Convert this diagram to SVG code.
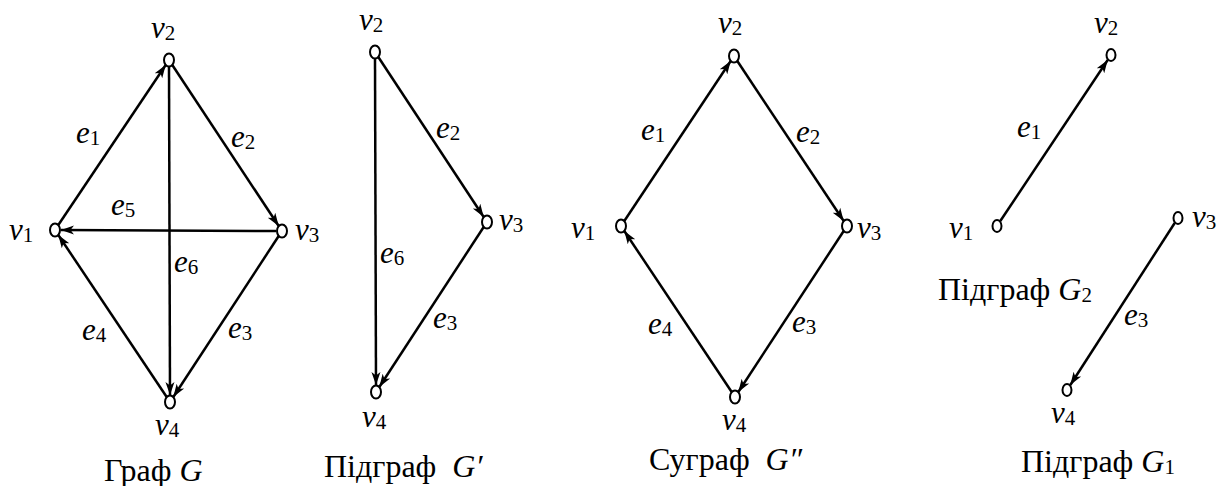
<svg xmlns="http://www.w3.org/2000/svg" width="1224" height="486" viewBox="0 0 1224 486">
<style>
text{font-family:'Liberation Serif',serif;font-size:31px;fill:#000}
.title{font-size:32px}
.it{font-style:italic}
.sub{font-size:21px;font-style:normal}
.node{fill:#fff;stroke:#000;stroke-width:2}
.edge{stroke:#000;stroke-width:2.5;fill:none;marker-end:url(#arr)}
</style>
<defs>
<marker id="arr" markerUnits="userSpaceOnUse" markerWidth="14" markerHeight="12" viewBox="0 0 14 12" refX="13" refY="6" orient="auto">
<path d="M0,1.5 L13,6 L0,10.5 L3.5,6 z" fill="#000"/>
</marker>
</defs>

<g id="connectors">
<line class="edge" x1="58.3" y1="225" x2="165.7" y2="65"/>
<line class="edge" x1="172.3" y1="65" x2="278.7" y2="226"/>
<line class="edge" x1="276" y1="231" x2="61" y2="230"/>
<line class="edge" x1="169" y1="67" x2="170" y2="395"/>
<line class="edge" x1="278.7" y1="236" x2="173.3" y2="397"/>
<line class="edge" x1="166.7" y1="397" x2="58.3" y2="235"/>
<line class="edge" x1="378.3" y1="57" x2="483.7" y2="217"/>
<line class="edge" x1="375" y1="59" x2="376" y2="385"/>
<line class="edge" x1="483.7" y1="227" x2="379.3" y2="387"/>
<line class="edge" x1="624.3" y1="221" x2="730.7" y2="61"/>
<line class="edge" x1="737.3" y1="61" x2="843.7" y2="221"/>
<line class="edge" x1="843.7" y1="231" x2="738.3" y2="392"/>
<line class="edge" x1="731.7" y1="392" x2="624.3" y2="231"/>
<line class="edge" x1="1000.3" y1="221" x2="1107.7" y2="60"/>
<line class="edge" x1="1174.7" y1="223" x2="1070.3" y2="385"/>
</g>

<g id="edge-labels" font-family="Liberation Serif">
<text x="76" y="143"><tspan class="it">e</tspan><tspan class="sub" dy="2">1</tspan></text>
<text x="231" y="147"><tspan class="it">e</tspan><tspan class="sub" dy="2">2</tspan></text>
<text x="111" y="215"><tspan class="it">e</tspan><tspan class="sub" dy="2">5</tspan></text>
<text x="174" y="272"><tspan class="it">e</tspan><tspan class="sub" dy="2">6</tspan></text>
<text x="82" y="340"><tspan class="it">e</tspan><tspan class="sub" dy="2">4</tspan></text>
<text x="228" y="338"><tspan class="it">e</tspan><tspan class="sub" dy="2">3</tspan></text>
<text x="436" y="138"><tspan class="it">e</tspan><tspan class="sub" dy="2">2</tspan></text>
<text x="380" y="263"><tspan class="it">e</tspan><tspan class="sub" dy="2">6</tspan></text>
<text x="433" y="328"><tspan class="it">e</tspan><tspan class="sub" dy="2">3</tspan></text>
<text x="641" y="140"><tspan class="it">e</tspan><tspan class="sub" dy="2">1</tspan></text>
<text x="796" y="142"><tspan class="it">e</tspan><tspan class="sub" dy="2">2</tspan></text>
<text x="648" y="334"><tspan class="it">e</tspan><tspan class="sub" dy="2">4</tspan></text>
<text x="792" y="332"><tspan class="it">e</tspan><tspan class="sub" dy="2">3</tspan></text>
<text x="1017" y="137"><tspan class="it">e</tspan><tspan class="sub" dy="2">1</tspan></text>
<text x="1124" y="325"><tspan class="it">e</tspan><tspan class="sub" dy="2">3</tspan></text>
</g>

<g font-family="Liberation Serif">
<g id="G-v1"><ellipse class="node" cx="55" cy="230" rx="5" ry="6.5"/><text x="9" y="240"><tspan class="it">v</tspan><tspan class="sub" dy="2">1</tspan></text></g>
<g id="G-v2"><ellipse class="node" cx="169" cy="60" rx="5" ry="6.5"/><text x="151" y="38"><tspan class="it">v</tspan><tspan class="sub" dy="2">2</tspan></text></g>
<g id="G-v3"><ellipse class="node" cx="282" cy="231" rx="5" ry="6.5"/><text x="295" y="240"><tspan class="it">v</tspan><tspan class="sub" dy="2">3</tspan></text></g>
<g id="G-v4"><ellipse class="node" cx="170" cy="402" rx="5" ry="6.5"/><text x="155" y="435"><tspan class="it">v</tspan><tspan class="sub" dy="2">4</tspan></text></g>
<g id="G-title"><text class="title" x="104" y="481">Граф <tspan class="it">G</tspan></text></g>

<g id="Gp-v2"><ellipse class="node" cx="375" cy="52" rx="5" ry="6.5"/><text x="359" y="30"><tspan class="it">v</tspan><tspan class="sub" dy="2">2</tspan></text></g>
<g id="Gp-v3"><ellipse class="node" cx="487" cy="222" rx="5" ry="6.5"/><text x="499" y="230"><tspan class="it">v</tspan><tspan class="sub" dy="2">3</tspan></text></g>
<g id="Gp-v4"><ellipse class="node" cx="376" cy="392" rx="5" ry="6.5"/><text x="362" y="427"><tspan class="it">v</tspan><tspan class="sub" dy="2">4</tspan></text></g>
<g id="Gp-title"><text class="title" x="324" y="477" xml:space="preserve">Підграф  <tspan class="it">G′</tspan></text></g>

<g id="Gpp-v1"><ellipse class="node" cx="621" cy="226" rx="5" ry="6.5"/><text x="571" y="238"><tspan class="it">v</tspan><tspan class="sub" dy="2">1</tspan></text></g>
<g id="Gpp-v2"><ellipse class="node" cx="734" cy="56" rx="5" ry="6.5"/><text x="718" y="33"><tspan class="it">v</tspan><tspan class="sub" dy="2">2</tspan></text></g>
<g id="Gpp-v3"><ellipse class="node" cx="847" cy="226" rx="5" ry="6.5"/><text x="857" y="238"><tspan class="it">v</tspan><tspan class="sub" dy="2">3</tspan></text></g>
<g id="Gpp-v4"><ellipse class="node" cx="735" cy="397" rx="5" ry="6.5"/><text x="722" y="430"><tspan class="it">v</tspan><tspan class="sub" dy="2">4</tspan></text></g>
<g id="Gpp-title"><text class="title" x="649" y="470" xml:space="preserve">Суграф  <tspan class="it">G″</tspan></text></g>

<g id="G2-v1"><ellipse class="node" cx="997" cy="226" rx="4.5" ry="6"/><text x="949" y="238"><tspan class="it">v</tspan><tspan class="sub" dy="2">1</tspan></text></g>
<g id="G2-v2"><ellipse class="node" cx="1111" cy="55" rx="4.5" ry="6"/><text x="1094" y="33"><tspan class="it">v</tspan><tspan class="sub" dy="2">2</tspan></text></g>
<g id="G2-title"><text class="title" x="938" y="300">Підграф <tspan class="it">G</tspan><tspan class="sub" dy="2">2</tspan></text></g>
<g id="G1-v3"><ellipse class="node" cx="1178" cy="218" rx="4.5" ry="6"/><text x="1192" y="227"><tspan class="it">v</tspan><tspan class="sub" dy="2">3</tspan></text></g>
<g id="G1-v4"><ellipse class="node" cx="1067" cy="390" rx="4.5" ry="6"/><text x="1051" y="423"><tspan class="it">v</tspan><tspan class="sub" dy="2">4</tspan></text></g>
<g id="G1-title"><text class="title" x="1021" y="472">Підграф <tspan class="it">G</tspan><tspan class="sub" dy="2">1</tspan></text></g>
</g>
</svg>
